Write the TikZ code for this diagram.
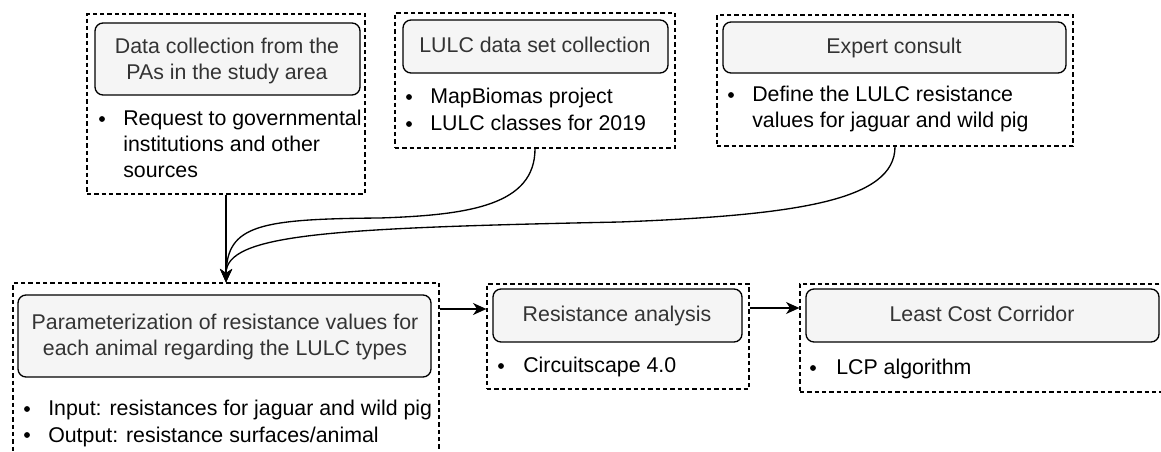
\documentclass[tikz,border=0pt]{standalone}
\usepackage{fontspec}
\setmainfont{Liberation Sans}
\usetikzlibrary{arrows.meta,fit}
\definecolor{hdrfill}{HTML}{F5F5F5}
\definecolor{hdrtext}{HTML}{333333}
% multi-line text whose reference point is the first baseline
\newcommand\txtl[1]{\begin{tabular}[t]{@{}l@{}}#1\end{tabular}}
\newcommand\txtc[1]{\begin{tabular}[t]{@{}c@{}}#1\end{tabular}}
\begin{document}
\begin{tikzpicture}[x=0.75pt,y=-0.75pt,
  every node/.style={font=\fontsize{16}{19.5}\selectfont, inner sep=0pt},
  group/.style={draw, line width=0.95pt, dash pattern=on 3.2pt off 2.3pt, fit={#1}},
  header/.style={draw=black, line width=1pt, fill=hdrfill, rounded corners=6pt, fit={#1}},
  title/.style={text=hdrtext, anchor=base},
  item/.style={anchor=base west},
  link/.style={line width=1pt, -{Stealth[length=10pt,width=9pt,inset=3pt]}}]
\useasboundingbox (0,0) rectangle (1161,452);
\clip (0,0) rectangle (1161,452);

% --- dashed group frames
\node[group={(87,14) (365,194)}] (g1) {};
\node[group={(395,13) (675,148)}] (g2) {};
\node[group={(717,15) (1073,146)}] (g3) {};
\node[group={(13,283) (439,470)}] (g4) {};
\node[group={(487,284) (749,389)}] (g5) {};
\node[group={(800,284) (1175,392)}] (g6) {};

% --- rounded step boxes
\node[header={(95,23) (360,95)}] (h1) {};
\node[header={(403,20) (668,73)}] (h2) {};
\node[header={(723,22) (1066,73)}] (h3) {};
\node[header={(18,295) (431,377)}] (h4) {};
\node[header={(493,289) (742,342)}] (h5) {};
\node[header={(806,289) (1159,342)}] (h6) {};

% --- step titles
\node[title] (t1) at (227,54) {\txtc{Data collection from the\\PAs in the study area}};
\node[title] (t2) at (535,53) {\txtc{LULC data set collection}};
\node[title] (t3) at (894,54) {\txtc{Expert consult}};
\node[title] (t4) at (225,330) {\txtc{Parameterization of resistance values for\\each animal regarding the LULC types}};
\node[title] (t5) at (617,322) {\txtc{Resistance analysis}};
\node[title] (t6) at (982,322) {\txtc{Least Cost Corridor}};

% --- bullet items
\node[item] (b1) at (123,126) {\txtl{Request to governmental\\institutions and other\\sources}};
\node[item] (b2a) at (430,104) {\txtl{MapBiomas project}};
\node[item] (b2b) at (430,131) {\txtl{LULC classes for 2019}};
\node[item] (b3) at (752,102) {\txtl{Define the LULC resistance\\values for jaguar and wild pig}};
\node[item] (b4a) at (48,416) {\txtl{Input: resistances for jaguar and wild pig}};
\node[item] (b4b) at (48,442) {\txtl{Output: resistance surfaces/animal}};
\node[item] (b5) at (523,373) {\txtl{Circuitscape 4.0}};
\node[item] (b6) at (836,375) {\txtl{LCP algorithm}};

\foreach \p in {(102,119),(409,97),(409,124),(731,95),(27,409),(27,435),(501,366),(813,368)}
  \fill \p circle (2.2pt);

% --- connectors
\draw[link] (g1.south) -- (g4.north);
\draw[link] (g2.south) .. controls (535,205) and (470,215) .. (380,218)
  .. controls (260,219) and (227,225) .. (g4.north);
\draw[link] (g3.south) .. controls (895,200) and (800,215) .. (620,222)
  .. controls (330,228) and (226,234) .. (g4.north);
\draw[link] (g4.east |- 0,309) -- (g5.west |- 0,309);
\draw[link] (g5.east |- 0,308) -- (g6.west |- 0,308);
\end{tikzpicture}
\end{document}
